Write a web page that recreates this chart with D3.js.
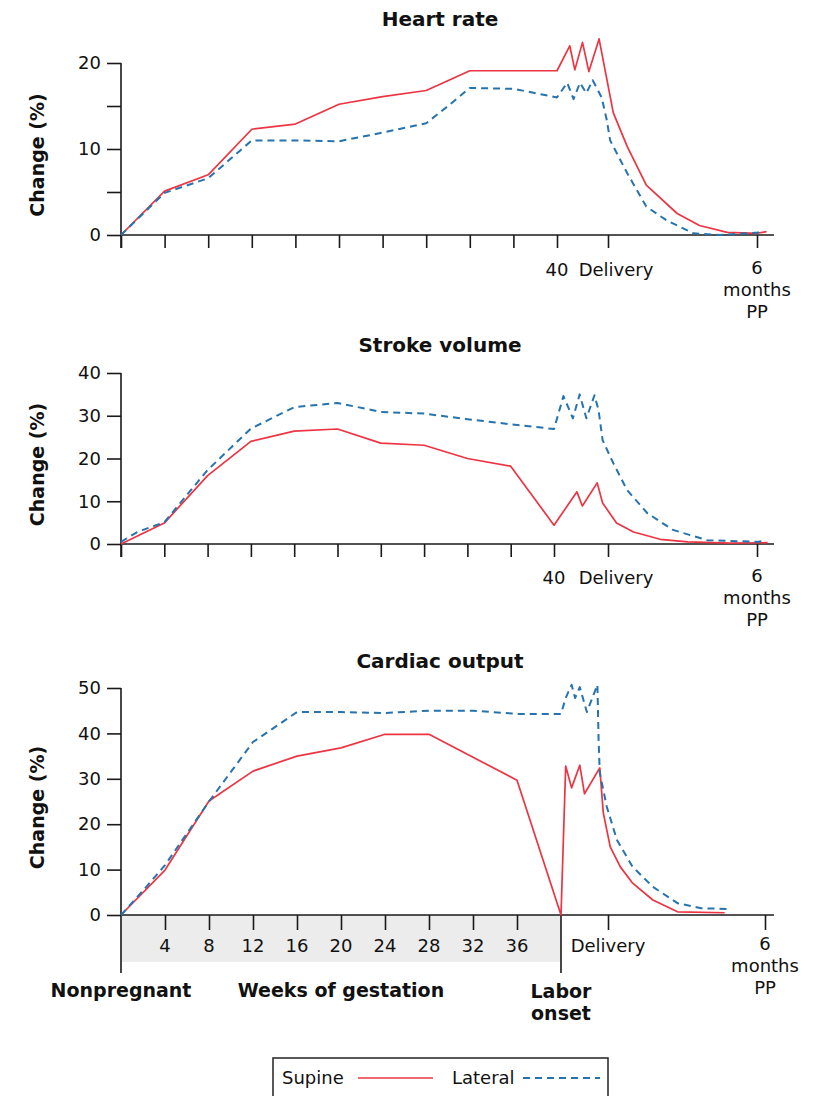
<html>
<head>
<title>hemodynamic changes</title>
<script src="https://d3js.org/d3.v7.min.js"></script>
<style>
  body { margin: 0; background: #fff; }
  svg text { font-family: "DejaVu Sans", Verdana, sans-serif; fill: #111; }
</style>
</head>
<body>
<script>
// timeline units: weeks 0-40, labor 40-44, delivery = 44, 6 months postpartum = 58
const DELIVERY = 44;
const SIX_MONTHS = 58;
const gestationWeeks = [4, 8, 12, 16, 20, 24, 28, 32, 36, 40];
const panelTitles = ["Heart rate", "Stroke volume", "Cardiac output"];
const yTicksHR = [0, 5, 10, 15, 20];
const yLabelsHR = [0, 10, 20];
const yTicksSV = [0, 10, 20, 30, 40];
const yTicksCO = [0, 10, 20, 30, 40, 50];
const legendLabels = ["Supine", "Lateral"];

// heart rate
const hrSupineX = [0, 4, 8, 12, 16, 20, 24, 28, 32, 36, 40, 41.0, 41.4, 42.0, 42.5, 43.3, 44.5, 45.8, 47.6, 50.5, 52.6, 55.2, 58.0, 58.9];
const hrSupineY = [0, 5.1, 7.0, 12.3, 12.9, 15.2, 16.1, 16.8, 19.1, 19.1, 19.1, 22.0, 19.2, 22.4, 19.0, 22.8, 14.2, 10.3, 5.8, 2.5, 1.1, 0.3, 0.2, 0.4];
const hrLateralX = [0, 4, 8, 12, 16, 20, 24, 28, 30, 32, 36, 40, 40.8, 41.3, 41.8, 42.3, 42.8, 43.5, 43.9, 44.2, 45.8, 47.6, 49.5, 52.0, 54.5, 58.3];
const hrLateralY = [0, 4.9, 6.6, 11.0, 11.0, 10.9, 11.9, 13.0, 15.0, 17.1, 17.0, 16.0, 17.7, 15.8, 17.7, 16.5, 18.0, 16.0, 13.4, 11.0, 7.2, 3.3, 1.7, 0.2, 0, 0.3];

// stroke volume
const svSupineX = [0, 4, 8, 12, 16, 20, 24, 28, 32, 36, 40, 41.7, 42.1, 43.2, 43.6, 44.8, 46.4, 48.9, 51.5, 55.5, 59.0];
const svSupineY = [0, 4.9, 16.0, 24.0, 26.4, 26.9, 23.6, 23.1, 20.0, 18.2, 4.4, 12.2, 8.9, 14.3, 9.6, 4.9, 2.8, 1.1, 0.5, 0.2, 0.3];
const svLateralX = [0, 1.5, 4, 8, 12, 16, 20, 24, 28, 32, 36, 40, 40.7, 41.4, 41.9, 42.4, 43.0, 43.3, 43.6, 44.5, 45.8, 47.7, 50.1, 53.3, 58.0, 58.5];
const svLateralY = [0.5, 2.8, 5.1, 17.3, 27.0, 32.0, 33.0, 30.9, 30.5, 29.2, 28.0, 26.9, 34.6, 29.4, 35.0, 29.4, 34.8, 31.3, 24.3, 18.9, 12.6, 7.2, 3.3, 0.9, 0.5, 0.7];

// cardiac output
const coSupineX = [0, 4, 8, 12, 16, 20, 24, 28, 36, 40, 40.4, 40.9, 41.6, 42.0, 43.3, 43.6, 44.2, 45.1, 46.2, 48.0, 50.2, 54.4];
const coSupineY = [0, 9.9, 25.1, 31.7, 35.0, 36.8, 39.8, 39.8, 29.7, 0, 32.8, 28.0, 33.0, 26.7, 32.4, 22.5, 15.0, 10.6, 7.0, 3.3, 0.7, 0.5];
const coLateralX = [0, 2.3, 4, 8, 12, 16, 20, 24, 28, 32, 36, 40, 40.4, 40.9, 41.2, 41.6, 42.2, 43.1, 43.2, 43.3, 43.9, 44.8, 46.2, 48.0, 50.2, 52.3, 54.9];
const coLateralY = [0, 6.2, 11.0, 25.0, 38.1, 44.7, 44.7, 44.5, 45.0, 45.0, 44.3, 44.3, 47.8, 50.7, 47.8, 50.2, 44.7, 50.7, 38.5, 31.3, 23.8, 16.5, 10.6, 6.2, 2.6, 1.5, 1.3];

const RED = "#ec3443";
const BLUE = "#2673ad";

const w = 816, h = 1096;
const svg = d3.select("body").append("svg").attr("width", w).attr("height", h);

const panels = [
  { title: panelTitles[0], titleY: 26, y0: 235, y1: 63, max: 20, ticks: yTicksHR, labels: yLabelsHR,
    w40: 557, w6: 757, labelY: 276, series: [[hrSupineX, hrSupineY], [hrLateralX, hrLateralY]], bottom: false },
  { title: panelTitles[1], titleY: 352, y0: 544, y1: 373, max: 40, ticks: yTicksSV, labels: yTicksSV,
    w40: 554, w6: 757, labelY: 584, series: [[svSupineX, svSupineY], [svLateralX, svLateralY]], bottom: false },
  { title: panelTitles[2], titleY: 668, y0: 915, y1: 688, max: 50, ticks: yTicksCO, labels: yTicksCO,
    w40: 561, w6: 765, labelY: 952, series: [[coSupineX, coSupineY], [coLateralX, coLateralY]], bottom: true }
];

const left = 121, deliveryPx = 608, right = 774;

panels.forEach(p => {
  const endU = SIX_MONTHS + (right - p.w6) * (SIX_MONTHS - DELIVERY) / (p.w6 - deliveryPx);
  const x = d3.scaleLinear()
    .domain([0, 40, DELIVERY, SIX_MONTHS, endU])
    .range([left, p.w40, deliveryPx, p.w6, right]);
  const y = d3.scaleLinear().domain([0, p.max]).range([p.y0, p.y1]);
  const g = svg.append("g");

  if (p.bottom) {
    g.append("rect")
      .attr("x", x(0)).attr("y", y(0))
      .attr("width", x(40) - x(0)).attr("height", 47)
      .attr("fill", "#ececec");
  }

  // title
  g.append("text").attr("x", 440).attr("y", p.titleY)
    .attr("text-anchor", "middle").attr("font-weight", "bold").attr("font-size", 20)
    .text(p.title);

  // y axis label
  g.append("text")
    .attr("transform", `translate(44,${(p.y0 + p.y1) / 2 + 6}) rotate(-90)`)
    .attr("text-anchor", "middle").attr("font-weight", "bold").attr("font-size", 19)
    .text("Change (%)");

  // y axis
  const yAxis = d3.axisLeft(y).tickValues(p.ticks).tickSize(14)
    .tickFormat(d => p.labels.includes(d) ? d : "");
  const ya = g.append("g").attr("transform", `translate(${left},0)`).call(yAxis);
  ya.select(".domain").remove();
  ya.selectAll("line").attr("stroke", "#1a1a1a").attr("stroke-width", 1.6);
  ya.selectAll("text").attr("font-size", 18).attr("fill", "#222").attr("x", -20)
    .style("font-family", '"DejaVu Sans", Verdana, sans-serif');
  g.append("line")
    .attr("x1", left).attr("x2", left)
    .attr("y1", y(p.max)).attr("y2", p.y0 + (p.bottom ? 58 : 13))
    .attr("stroke", "#1a1a1a").attr("stroke-width", 1.6);

  // x axis
  const xTicks = p.bottom ? gestationWeeks.slice(0, -1).concat([DELIVERY, SIX_MONTHS])
                          : [0].concat(gestationWeeks, [DELIVERY, SIX_MONTHS]);
  const xAxis = d3.axisBottom(x).tickValues(xTicks).tickSize(p.bottom ? 15 : 13).tickFormat("");
  const xa = g.append("g").attr("transform", `translate(0,${p.y0})`).call(xAxis);
  xa.select(".domain").attr("d", `M${left},0H${right}`).attr("stroke", "#1a1a1a").attr("stroke-width", 1.6);
  xa.selectAll("line").attr("stroke", "#1a1a1a").attr("stroke-width", 1.6);

  const lab = (txt, xx, yy, opts = {}) => g.append("text")
    .attr("x", xx).attr("y", yy).attr("text-anchor", "middle")
    .attr("font-size", opts.size || 18).attr("font-weight", opts.bold ? "bold" : null)
    .attr("fill", opts.bold ? "#111" : "#222")
    .text(txt);

  if (p.bottom) {
    gestationWeeks.slice(0, -1).forEach(wk => lab(wk, x(wk), p.labelY));
    g.append("line")
      .attr("x1", x(40)).attr("x2", x(40))
      .attr("y1", y(0)).attr("y2", y(0) + 58)
      .attr("stroke", "#1a1a1a").attr("stroke-width", 1.6);
    lab("Delivery", x(DELIVERY), p.labelY);
    lab("Nonpregnant", x(0), 997, { bold: true, size: 19 });
    lab("Weeks of gestation", x(20), 997, { bold: true, size: 19 });
    lab("Labor", x(40), 998, { bold: true, size: 19 });
    lab("onset", x(40), 1020, { bold: true, size: 19 });
  } else {
    lab("40", x(40), p.labelY);
    lab("Delivery", x(DELIVERY) + 8, p.labelY);
  }
  lab("6", x(SIX_MONTHS), p.labelY - 2);
  lab("months", x(SIX_MONTHS), p.labelY + 20);
  lab("PP", x(SIX_MONTHS), p.labelY + 42);

  const line = d3.line().x(d => x(d[0])).y(d => y(d[1]));
  p.series.forEach((s, i) => {
    const pts = d3.zip(s[0], s[1]);
    g.append("path").datum(pts)
      .attr("d", line)
      .attr("fill", "none")
      .attr("stroke", i === 0 ? RED : BLUE)
      .attr("stroke-width", i === 0 ? 1.7 : 2)
      .attr("stroke-dasharray", i === 0 ? null : "7,5")
      .attr("stroke-linejoin", "round");
  });
});

// legend
const lg = svg.append("g");
lg.append("rect").attr("x", 273).attr("y", 1058).attr("width", 335).attr("height", 60)
  .attr("fill", "none").attr("stroke", "#222").attr("stroke-width", 1.5);
lg.append("text").attr("x", 282).attr("y", 1084).attr("font-size", 18).attr("fill", "#222").text(legendLabels[0]);
lg.append("line").attr("x1", 358).attr("x2", 433).attr("y1", 1078).attr("y2", 1078)
  .attr("stroke", RED).attr("stroke-width", 1.7);
lg.append("text").attr("x", 452).attr("y", 1084).attr("font-size", 18).attr("fill", "#222").text(legendLabels[1]);
lg.append("line").attr("x1", 523).attr("x2", 600).attr("y1", 1078).attr("y2", 1078)
  .attr("stroke", BLUE).attr("stroke-width", 2).attr("stroke-dasharray", "7,5");
</script>
</body>
</html>
